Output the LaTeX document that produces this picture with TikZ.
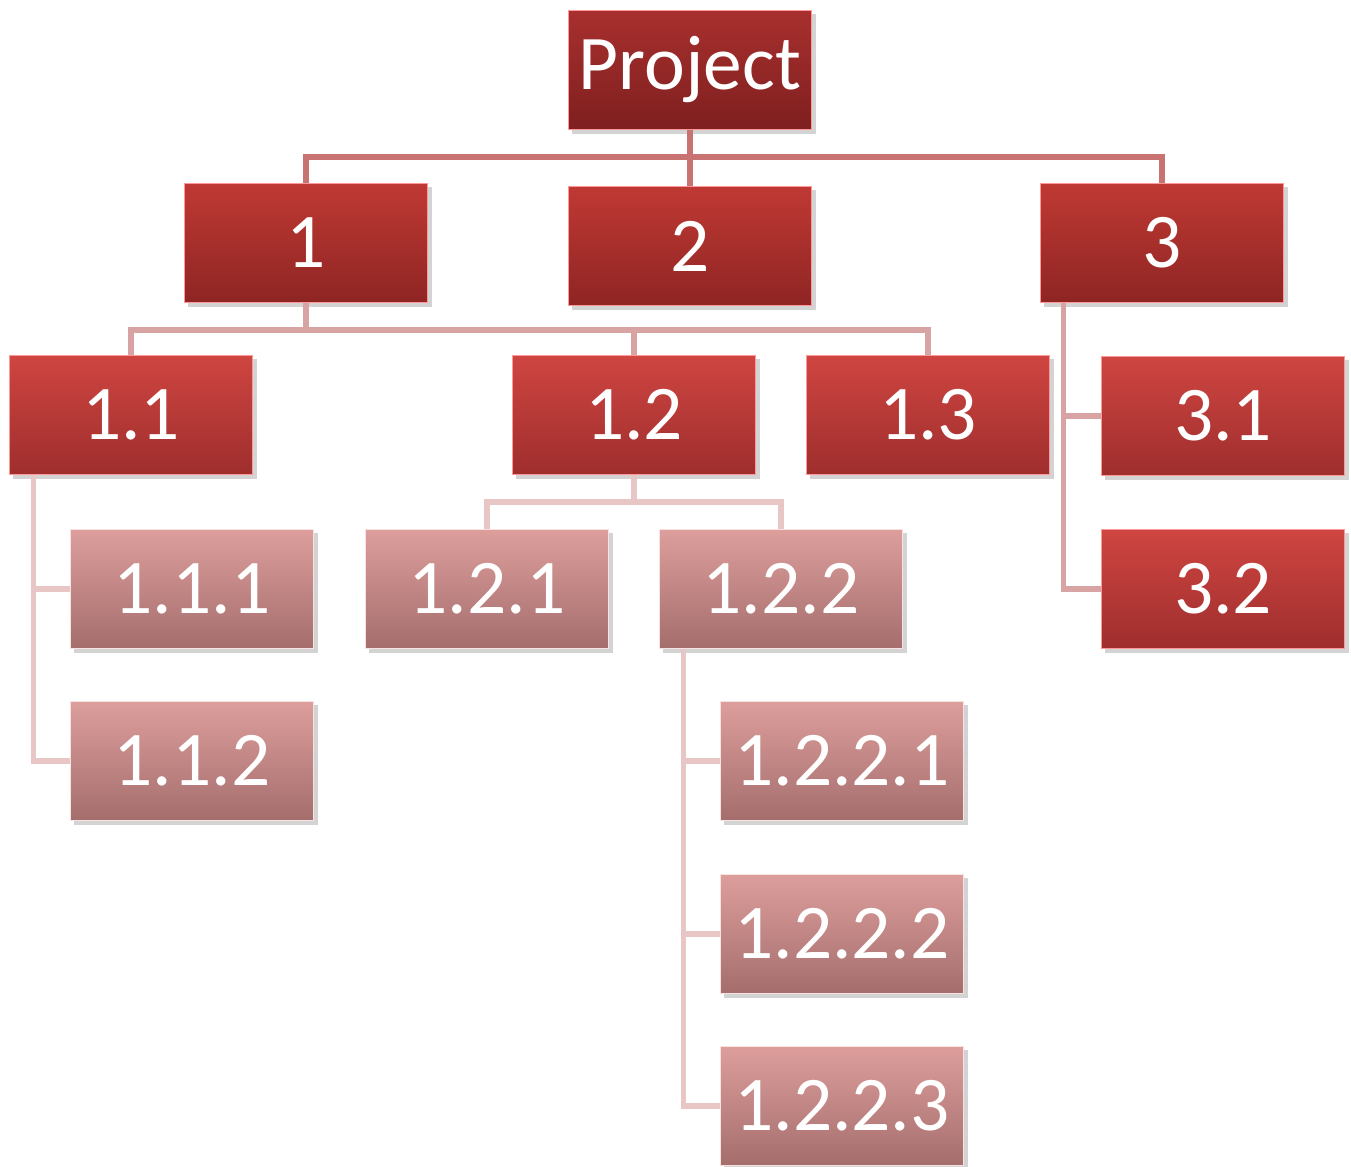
\documentclass[tikz,border=0pt]{standalone}
\usepackage{fontspec}
\setmainfont{Carlito}
\usetikzlibrary{shadows}

\definecolor{redA1}{HTML}{A8302E}
\definecolor{redA2}{HTML}{7E1F1F}
\definecolor{redB1}{HTML}{C03934}
\definecolor{redB2}{HTML}{8E2523}
\definecolor{redC1}{HTML}{CF4541}
\definecolor{redC2}{HTML}{9E2E2D}
\definecolor{pinkD1}{HTML}{DD9E9C}
\definecolor{pinkD2}{HTML}{A46E6D}
\definecolor{lineA}{HTML}{C87272}
\definecolor{lineB}{HTML}{D8A3A3}
\definecolor{lineC}{HTML}{E8C6C6}

\begin{document}
\begin{tikzpicture}[x=0.01cm,y=-0.01cm,
    wbs/.style={rectangle, minimum width=2.43cm, minimum height=1.19cm, inner sep=0pt,
        text=white, font=\fontsize{22}{26}\selectfont,
        draw=white!60!red, line width=0.4pt,
        drop shadow={shadow xshift=0.04cm, shadow yshift=-0.04cm, opacity=0.35}},
    lvA/.style={wbs, top color=redA1, bottom color=redA2},
    lvB/.style={wbs, top color=redB1, bottom color=redB2},
    lvC/.style={wbs, top color=redC1, bottom color=redC2},
    lvD/.style={wbs, top color=pinkD1, bottom color=pinkD2, draw=white!70!pinkD1},
    linkA/.style={lineA, line width=1.5pt},
    linkB/.style={lineB, line width=1.5pt},
    linkC/.style={lineC, line width=1.5pt}]

        \useasboundingbox (0,0) rectangle (1351,1167);

        \node[lvA] (proj) at (690, 70) {Project};
        \node[lvB] (n1) at (306, 243) {1};
        \node[lvB] (n2) at (690, 246) {2};
        \node[lvB] (n3) at (1162, 243) {3};
        \node[lvC] (n11) at (131, 415) {1.1};
        \node[lvC] (n12) at (634, 415) {1.2};
        \node[lvC] (n13) at (928, 415) {1.3};
        \node[lvC] (n31) at (1223, 416) {3.1};
        \node[lvC] (n32) at (1223, 589) {3.2};
        \node[lvD] (n111) at (192, 589) {1.1.1};
        \node[lvD] (n112) at (192, 761) {1.1.2};
        \node[lvD] (n121) at (487, 589) {1.2.1};
        \node[lvD] (n122) at (781, 589) {1.2.2};
        \node[lvD] (n1221) at (842, 761) {1.2.2.1};
        \node[lvD] (n1222) at (842, 934) {1.2.2.2};
        \node[lvD] (n1223) at (842, 1106) {1.2.2.3};

        \coordinate (bus0) at (690, 157);
        \coordinate (bus1) at (306, 330);
        \coordinate (bus12) at (634, 502);

        \draw[linkA] (proj) -- (bus0);
        \draw[linkA] (bus0) -| (n1.north);
        \draw[linkA] (bus0) -- (n2.north);
        \draw[linkA] (bus0) -| (n3.north);

        \draw[linkB] (n1) -- (bus1);
        \draw[linkB] (bus1) -| (n11.north);
        \draw[linkB] (bus1) -| (n12.north);
        \draw[linkB] (bus1) -| (n13.north);
        \draw[linkB] ([xshift=0.24cm]n3.south west) |- (n31.west);
        \draw[linkB] ([xshift=0.24cm]n3.south west) |- (n32.west);

        \draw[linkC] ([xshift=0.25cm]n11.south west) |- (n111.west);
        \draw[linkC] ([xshift=0.25cm]n11.south west) |- (n112.west);
        \draw[linkC] (n12) -- (bus12);
        \draw[linkC] (bus12) -| (n121.north);
        \draw[linkC] (bus12) -| (n122.north);
        \draw[linkC] ([xshift=0.25cm]n122.south west) |- (n1221.west);
        \draw[linkC] ([xshift=0.25cm]n122.south west) |- (n1222.west);
        \draw[linkC] ([xshift=0.25cm]n122.south west) |- (n1223.west);
    \end{tikzpicture}
\end{document}
